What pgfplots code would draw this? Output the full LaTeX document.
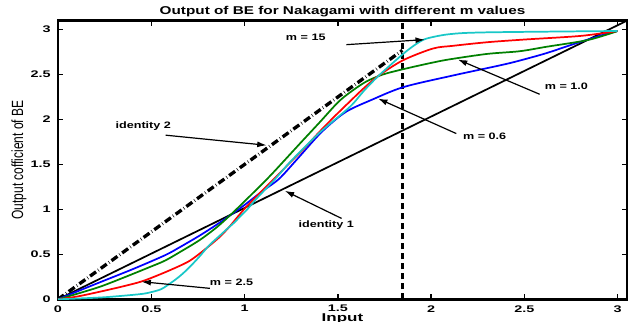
\documentclass[border=0pt]{standalone}
\usepackage{graphicx}
\usepackage{fontspec}
\setmainfont{Liberation Sans}
\newfontfamily\tickfont{Liberation Sans}[FakeStretch=1.5]
\newfontfamily\annfont{Liberation Sans}[FakeStretch=1.35]
\usepackage{pgfplots}
\pgfplotsset{compat=1.18}
\usetikzlibrary{arrows.meta}
\definecolor{mgreen}{rgb}{0,0.5,0}
\definecolor{mcyan}{rgb}{0.1,0.78,0.78}
\begin{document}
\begin{tikzpicture}
\begin{axis}[
  scale only axis, width=426.75pt, height=209pt,
  xmin=0, xmax=3.05, ymin=0, ymax=3.1,
  xtick={0,0.5,1,1.5,2,2.5,3}, ytick={0,0.5,1,1.5,2,2.5,3},
  tick align=inside, major tick length=3.75pt,
  axis line style={line width=1.8pt},
  every tick/.style={black, line width=1pt},
  /pgf/number format/assume math mode=true,
  ticklabel style={font=\tickfont\bfseries\fontsize{7.2}{8}\selectfont},
  xticklabel style={yshift=-1pt},
  yticklabel style={xshift=-2pt},
  every axis title shift=0pt,
  title={Output of BE for Nakagami with different m values},
  title style={font=\annfont\bfseries\fontsize{8.5}{10}\selectfont, at={(axis description cs:0.5,1.022)}, anchor=base},
  xlabel={Input},
  xlabel style={font=\tickfont\bfseries\fontsize{8.5}{10}\selectfont, at={(axis description cs:0.5,-0.0797)}, anchor=base},
  ylabel={\scalebox{1}[1.35]{Output cofficient of BE}},
  ylabel style={font=\fontsize{9}{10}\selectfont, at={(axis description cs:-0.0685,0.5)}, anchor=center},
]
% identity 1
\addplot[black, line width=1.3pt] coordinates {(0,0) (3.05,3.1)};
% identity 2
\addplot[black, line width=2.5pt, dash pattern=on 5.5pt off 2pt on 0.4pt off 2pt] coordinates {(0,0) (1.846,2.77)};
% threshold
\addplot[black, line width=2pt, dash pattern=on 5pt off 2.5pt] coordinates {(1.846,0) (1.846,3.1)};
% m = 0.6
\addplot[blue, line width=1.3pt, smooth, tension=0.5] coordinates {
(0,0) (0.1,0.085) (0.225,0.19) (0.4,0.335) (0.573,0.49) (0.653,0.58) (0.76,0.71) (0.85,0.83) (0.92,0.93) (1.0,1.05) (1.1,1.21) (1.185,1.34) (1.278,1.55) (1.403,1.84) (1.5,2.02) (1.564,2.11) (1.671,2.21) (1.85,2.36) (2.117,2.49) (2.385,2.61) (2.5,2.67) (2.62,2.74) (2.75,2.83) (2.87,2.91) (2.95,2.96) (3.0,2.985)};
% m = 1.0
\addplot[mgreen, line width=1.3pt, smooth, tension=0.5] coordinates {
(0,0) (0.1,0.06) (0.225,0.14) (0.35,0.24) (0.493,0.36) (0.573,0.43) (0.653,0.525) (0.76,0.66) (0.85,0.80) (0.92,0.93) (1.0,1.09) (1.126,1.35) (1.207,1.53) (1.3,1.74) (1.403,1.97) (1.5,2.19) (1.564,2.30) (1.65,2.42) (1.74,2.50) (1.85,2.56) (2.0,2.63) (2.1,2.67) (2.3,2.73) (2.475,2.76) (2.62,2.81) (2.83,2.88) (2.95,2.95) (3.0,2.985)};
% m = 2.5
\addplot[red, line width=1.3pt, smooth, tension=0.5] coordinates {
(0,0) (0.1,0.03) (0.225,0.085) (0.35,0.145) (0.45,0.2) (0.55,0.28) (0.65,0.37) (0.707,0.43) (0.76,0.51) (0.814,0.60) (0.87,0.70) (0.92,0.81) (0.96,0.91) (1.01,1.03) (1.1,1.22) (1.153,1.33) (1.234,1.50) (1.32,1.68) (1.4,1.86) (1.48,2.03) (1.564,2.2) (1.64,2.35) (1.72,2.49) (1.85,2.66) (2.01,2.79) (2.117,2.82) (2.3,2.86) (2.5,2.89) (2.8,2.93) (3.0,2.985)};
% m = 15
\addplot[mcyan, line width=1.3pt, smooth, tension=0.5] coordinates {
(0,0) (0.225,0.02) (0.35,0.04) (0.45,0.06) (0.5,0.08) (0.55,0.11) (0.582,0.15) (0.63,0.22) (0.671,0.29) (0.72,0.39) (0.76,0.48) (0.81,0.60) (0.868,0.71) (0.91,0.79) (0.948,0.86) (0.98,0.93) (1.01,0.99) (1.064,1.12) (1.16,1.33) (1.25,1.54) (1.4,1.85) (1.564,2.14) (1.64,2.32) (1.72,2.49) (1.85,2.73) (1.92,2.84) (1.975,2.9) (2.1,2.95) (2.3,2.97) (3.0,2.985)};
% annotations
\tikzset{ann/.style={font=\annfont\bfseries\fontsize{7}{8}\selectfont},
         arr/.style={black, line width=0.9pt, -{Latex[length=7pt,width=4.5pt]}}}
\node[ann] at (axis cs:1.328,2.914) {m = 15};
\draw[arr] (axis cs:1.546,2.833) -- (axis cs:1.966,2.889);
\node[ann] at (axis cs:2.725,2.37) {m = 1.0};
\draw[arr] (axis cs:2.582,2.281) -- (axis cs:2.144,2.667);
\node[ann] at (axis cs:2.287,1.814) {m = 0.6};
\draw[arr] (axis cs:2.135,1.844) -- (axis cs:1.716,2.233);
\node[ann] at (axis cs:0.457,1.926) {identity 2};
\draw[arr] (axis cs:0.577,1.826) -- (axis cs:1.118,1.714);
\node[ann] at (axis cs:1.438,0.826) {identity 1};
\draw[arr] (axis cs:1.52,0.9) -- (axis cs:1.216,1.207);
\node[ann] at (axis cs:0.93,0.19) {m = 2.5};
\draw[arr] (axis cs:0.814,0.122) -- (axis cs:0.448,0.196);
\coordinate (ll) at (rel axis cs:0,0);
\coordinate (ur) at (rel axis cs:1,1);
\end{axis}
\pgfresetboundingbox
\path[use as bounding box] ([shift={(-43.5pt,-17pt)}]ll) rectangle ([shift={(9pt,15.5pt)}]ur);
\end{tikzpicture}
\end{document}
